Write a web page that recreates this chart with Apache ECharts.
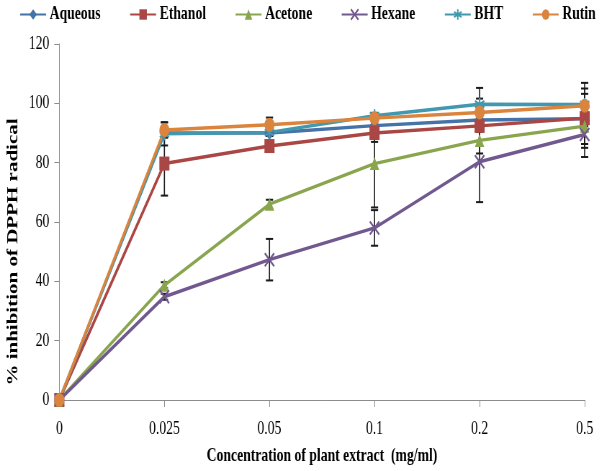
<!DOCTYPE html>
<html>
<head>
<meta charset="utf-8">
<script src="https://cdn.jsdelivr.net/npm/echarts@6/dist/echarts.min.js"></script>
<style>
html,body{margin:0;padding:0;background:#fff;overflow:hidden;width:600px;height:471px;}
#c{width:834px;height:471px;transform:scaleX(0.72);transform-origin:0 0;}
</style>
</head>
<body>
<div id="c"></div>
<script>
// ---- data ----
var categories = ['0', '0.025', '0.05', '0.1', '0.2', '0.5'];
var seriesNames = ['Aqueous', 'Ethanol', 'Acetone', 'Hexane', 'BHT', 'Rutin'];
var aqueous = [0, 90.0, 90.0, 92.5, 94.4, 94.8];
var ethanol = [0, 79.7, 85.6, 90.0, 92.4, 95.0];
var acetone = [0, 38.7, 66.0, 79.7, 87.5, 92.3];
var hexane  = [0, 34.8, 47.3, 58.0, 80.3, 89.5];
var bht     = [0, 89.7, 90.2, 95.8, 99.7, 99.6];
var rutin   = [0, 91.0, 92.8, 95.0, 96.9, 99.2];
var aqueousErr = [0, 1.0, 1.0, 1.2, 1.0, 1.0];
var ethanolErr = [0, 10.8, 1.5, 3.0, 2.0, 10.0];
var acetoneErr = [0, 1.0, 1.5, 14.8, 4.4, 6.0];
var hexaneErr  = [0, 1.0, 7.0, 6.0, 13.6, 7.6];
var bhtErr     = [0, 3.9, 1.0, 1.0, 5.5, 7.3];
var rutinErr   = [0, 2.6, 2.4, 1.5, 4.7, 4.0];
var yTicks = {min: 0, max: 120, interval: 20};
var xTitle = 'Concentration of plant extract  (mg/ml)';
var yTitle = '% inhibition of DPPH radical';

// ---- styling ----
var serif = "'Liberation Serif', 'Times New Roman', serif";
var colors = ['#4572A7', '#AA4643', '#89A54E', '#71588F', '#4198AF', '#DB843D'];
var symbols = [
  'diamond',
  'rect',
  'triangle',
  'path://M0,0L10,10M10,0L0,10',
  'path://M5,0L5,10M0,2.5L10,7.5M10,2.5L0,7.5',
  'circle'
];
var symbolSizes = [14, 14, 13, 13, 13, 14];
var values = [aqueous, ethanol, acetone, hexane, bht, rutin];
var errors = [aqueousErr, ethanolErr, acetoneErr, hexaneErr, bhtErr, rutinErr];

var lineSeries = seriesNames.map(function (name, i) {
  var stroked = symbols[i].indexOf('path://') === 0;
  return {
    name: name,
    type: 'line',
    data: values[i],
    symbol: symbols[i],
    symbolSize: symbolSizes[i],
    showAllSymbol: true,
    z: 3,
    lineStyle: {color: colors[i], width: 3.4},
    itemStyle: stroked ? {color: colors[i], borderColor: colors[i], borderWidth: 2.2}
                       : {color: colors[i], borderWidth: 0}
  };
});

var errData = [];
values.forEach(function (arr, s) {
  arr.forEach(function (v, k) {
    if (errors[s][k] > 0) errData.push([k, v - errors[s][k], v + errors[s][k]]);
  });
});

var errSeries = {
  name: 'err',
  type: 'custom',
  z: 2,
  silent: true,
  data: errData,
  encode: {x: 0, y: [1, 2]},
  renderItem: function (params, api) {
    var x = api.value(0);
    var lo = api.coord([x, api.value(1)]);
    var hi = api.coord([x, api.value(2)]);
    var w = 5;
    return {
      type: 'group',
      children: [
        {type: 'line', shape: {x1: hi[0], y1: hi[1], x2: lo[0], y2: lo[1]}, style: {stroke: '#1a1a1a', lineWidth: 1.6}},
        {type: 'line', shape: {x1: hi[0] - w, y1: hi[1], x2: hi[0] + w, y2: hi[1]}, style: {stroke: '#1a1a1a', lineWidth: 2}},
        {type: 'line', shape: {x1: lo[0] - w, y1: lo[1], x2: lo[0] + w, y2: lo[1]}, style: {stroke: '#1a1a1a', lineWidth: 2}}
      ]
    };
  }
};

var chart = echarts.init(document.getElementById('c'), null, {renderer: 'canvas'});
chart.setOption({
  animation: false,
  backgroundColor: '#ffffff',
  color: colors,
  legend: {
    data: seriesNames,
    left: 22,
    top: 0,
    itemWidth: 36,
    itemHeight: 13,
    itemGap: 40,
    textStyle: {fontFamily: serif, fontWeight: 'bold', fontSize: 19, color: '#000'}
  },
  grid: {left: 74, right: 22, top: 44, bottom: 67, containLabel: false},
  xAxis: {
    type: 'category',
    data: categories,
    boundaryGap: false,
    name: xTitle,
    nameLocation: 'middle',
    nameGap: 47,
    nameTextStyle: {fontFamily: serif, fontWeight: 'bold', fontSize: 19, color: '#000'},
    axisLine: {lineStyle: {color: '#8c8c8c', width: 1}},
    axisTick: {show: true, length: 7, lineStyle: {color: '#8c8c8c'}},
    axisLabel: {margin: 20, fontFamily: serif, fontSize: 19, color: '#000'},
    splitLine: {show: false}
  },
  yAxis: {
    type: 'value',
    min: yTicks.min,
    max: yTicks.max,
    interval: yTicks.interval,
    name: yTitle,
    nameLocation: 'middle',
    nameGap: 50,
    nameTextStyle: {fontFamily: serif, fontWeight: 'bold', fontSize: 21, color: '#000', padding: [0, 60, 0, 0]},
    axisLine: {show: true, lineStyle: {color: '#8c8c8c', width: 1}},
    axisTick: {show: true, length: 7, lineStyle: {color: '#8c8c8c'}},
    axisLabel: {margin: 14, fontFamily: serif, fontSize: 19, color: '#000'},
    splitLine: {show: false}
  },
  series: lineSeries.concat([errSeries])
});
</script>
</body>
</html>
